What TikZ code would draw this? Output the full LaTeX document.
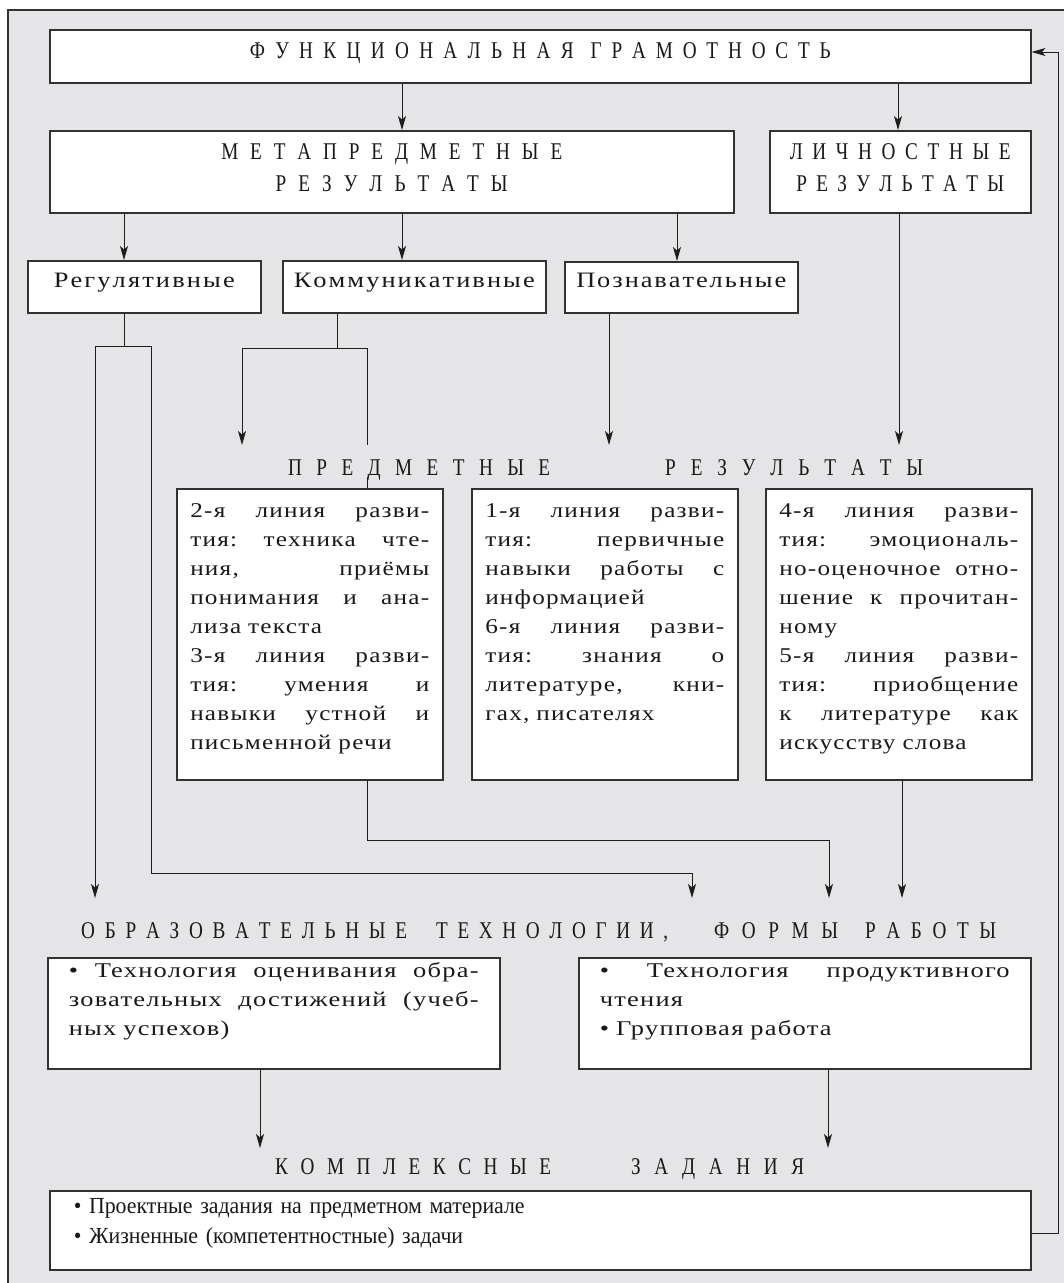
\documentclass[tikz,border=0pt]{standalone}
\usepackage{fontspec}
\setmainfont{Liberation Serif}
\newfontfamily\hfont{Liberation Serif}[FakeStretch=0.8]
\newfontfamily\bodyfont{Liberation Serif}[FakeStretch=1.2, LetterSpace=6]
\newfontfamily\btfont{Liberation Serif}[FakeStretch=1.26, LetterSpace=6]
\newfontfamily\lblfont{Liberation Serif}[FakeStretch=1.2]
\newfontfamily\tfont{Liberation Serif}[FakeStretch=0.95]
\usetikzlibrary{arrows.meta}
\definecolor{bgc}{RGB}{229,229,231}
\definecolor{linec}{RGB}{30,30,30}
\definecolor{boxc}{RGB}{50,50,50}
\definecolor{txtc}{RGB}{25,25,25}
\def\spreadloop#1{#1\futurelet\spnext\spreadcheck}
\def\spreadcheck{\ifx\spnext\relax\expandafter\spreadstop\else\hfil\expandafter\spreadloop\fi}
\def\spreadstop\relax{}
\newcommand\spw[2]{\leavevmode\hbox to #1{\spreadloop#2\relax}}
\newcommand\jl[1]{\leavevmode\hbox to \hsize{\spaceskip=0.3em plus 20em minus 0.08em\xspaceskip=\spaceskip\relax #1}}
\begin{document}
\begin{tikzpicture}[x=1pt,y=-1pt,
  bx/.style={draw=boxc, line width=1.5pt, fill=white, inner sep=0pt, text=txtc},
  hdf/.style={font=\hfont\fontsize{24}{32}\selectfont},
  hd/.style={inner sep=0pt, text=txtc, hdf},
  lbl/.style={font=\lblfont\fontsize{22}{26}\selectfont, align=center},
  mid/.style={bx, anchor=north west, text width=239pt, inner xsep=13.5pt, inner ysep=0pt,
    text height=29pt, text depth=262pt, align=left,
    font=\bodyfont\fontsize{21}{29}\selectfont},
  bt/.style={bx, anchor=north west, text width=410pt, inner xsep=21pt, inner ysep=0pt,
    text height=20pt, text depth=91pt, align=left,
    font=\btfont\fontsize{21}{29}\selectfont},
  ln/.style={draw=linec, line width=1pt},
  arr/.style={ln, -{Stealth[length=14pt,width=8pt,inset=3.5pt]}}]
\useasboundingbox (0,0) rectangle (1064,1283);
\fill[bgc] (8,10) rectangle (1064,1283);
\draw[boxc, line width=1.5pt] (8,1283) -- (8,10) -- (1064,10);

% top level
\node[bx, hdf, anchor=north west, text width=981pt, align=center, text height=29pt, text depth=24pt] (fg) at (49,29)
  {\spw{324pt}{ФУНКЦИОНАЛЬНАЯ}\hspace{17pt}\spw{240pt}{ГРАМОТНОСТЬ}};
\node[bx, hdf, anchor=north west, text width=684pt, align=center, text height=29pt, text depth=53pt] (meta) at (49,130)
  {\spw{341pt}{МЕТАПРЕДМЕТНЫЕ}\\\spw{232pt}{РЕЗУЛЬТАТЫ}};
\node[bx, hdf, anchor=north west, text width=261pt, align=center, text height=29pt, text depth=53pt] (lich) at (769,130)
  {\spw{221pt}{ЛИЧНОСТНЫЕ}\\\spw{208pt}{РЕЗУЛЬТАТЫ}};

% second level
\node[bx, lbl, anchor=north west, text width=233pt, text height=27pt, text depth=25pt] (reg) at (27,260) {\spw{181pt}{Регулятивные}};
\node[bx, lbl, anchor=north west, text width=263pt, text height=27pt, text depth=25pt] (kom) at (282,260) {\spw{241pt}{Коммуникативные}};
\node[bx, lbl, anchor=north west, text width=233pt, text height=26pt, text depth=25pt] (poz) at (564,261) {\spw{210pt}{Познавательные}};

% subject results
\node[hd, anchor=base west] (pr) at (288,475)
  {\spw{262pt}{ПРЕДМЕТНЫЕ}\hspace{115pt}\spw{258pt}{РЕЗУЛЬТАТЫ}};
\node[mid] (l2) at (176,488) {\jl{2-я линия разви-}\\\jl{тия: техника чте-}\\\jl{ния, приёмы}\\\jl{понимания и ана-}\\лиза текста\\\jl{3-я линия разви-}\\\jl{тия: умения и}\\\jl{навыки устной и}\\письменной речи};
\node[mid] (l1) at (471,488) {\jl{1-я линия разви-}\\\jl{тия: первичные}\\\jl{навыки работы с}\\информацией\\\jl{6-я линия разви-}\\\jl{тия: знания о}\\\jl{литературе, кни-}\\гах, писателях};
\node[mid] (l4) at (765,488) {\jl{4-я линия разви-}\\\jl{тия: эмоциональ-}\\\jl{но-оценочное отно-}\\\jl{шение к прочитан-}\\ному\\\jl{5-я линия разви-}\\\jl{тия: приобщение}\\\jl{к литературе как}\\искусству слова};

% technologies
\node[hd, anchor=base west] (ot) at (81,938)
  {\spw{326pt}{ОБРАЗОВАТЕЛЬНЫЕ}\hspace{29pt}\spw{232pt}{ТЕХНОЛОГИИ,}\hspace{46pt}\spw{124pt}{ФОРМЫ}\hspace{27pt}\spw{131pt}{РАБОТЫ}};
\node[bt] (t1) at (47,957) {\jl{• Технология оценивания обра-}\\\jl{зовательных достижений (учеб-}\\ных успехов)};
\node[bt] (t2) at (578,957) {\jl{• Технология продуктивного}\\чтения\\• Групповая работа};

% complex tasks
\node[hd, anchor=base west] (kz) at (275,1174)
  {\spw{276pt}{КОМПЛЕКСНЫЕ}\hspace{80pt}\spw{173pt}{ЗАДАНИЯ}};
\node[bx, anchor=north west, text width=933pt, inner xsep=24pt, inner ysep=0pt, text height=23pt,
  text depth=56pt, align=left, font=\tfont\fontsize{23}{30}\selectfont] (t3) at (49,1190)
  {• Проектные задания на предметном материале\\• Жизненные (компетентностные) задачи};

% coordinates
\coordinate (rj) at (124,346);
\coordinate (rl) at (95,346);
\coordinate (rr) at (151,346);
\coordinate (kj) at (337,348);
\coordinate (kl) at (242,348);
\coordinate (kr) at (367,348);
\coordinate (a1) at (95,898);
\coordinate (a2) at (242,445);
\coordinate (a3) at (609,445);
\coordinate (a4) at (899,445);
\coordinate (b1) at (151,873);
\coordinate (b2) at (692,873);
\coordinate (a5) at (692,898);
\coordinate (c1) at (367,840);
\coordinate (c2) at (829,840);
\coordinate (a6) at (829,898);
\coordinate (a7) at (902,898);
\coordinate (a8) at (260,1148);
\coordinate (a9) at (828,1148);
\coordinate (f1) at (1058,1233);
\coordinate (f2) at (1058,52);

% connectors
\draw[arr] (fg.south -| 402,0) -- (meta.north -| 402,0);
\draw[arr] (fg.south -| 898,0) -- (lich.north -| 898,0);
\draw[arr] (meta.south -| 124,0) -- (reg.north -| 124,0);
\draw[arr] (meta.south -| 402,0) -- (kom.north -| 402,0);
\draw[arr] (meta.south -| 677,0) -- (poz.north -| 677,0);

\draw[ln] (reg.south -| rj) -- (rj);
\draw[ln] (rl) -- (rr);
\draw[arr] (rl) -- (a1);
\draw[arr] (rr) -- (b1) -- (b2) -- (a5);

\draw[ln] (kom.south -| kj) -- (kj);
\draw[ln] (kl) -- (kr);
\draw[arr] (kl) -- (a2);
\draw[ln] (kr) -- (kr |- a2);
\draw[ln] (kr |- 0,477) -- (kr |- l2.north);

\draw[arr] (poz.south -| a3) -- (a3);
\draw[arr] (lich.south -| a4) -- (a4);

\draw[arr] (l2.south -| c1) -- (c1) -- (c2) -- (a6);
\draw[arr] (l4.south -| a7) -- (a7);

\draw[arr] (t1.south -| a8) -- (a8);
\draw[arr] (t2.south -| a9) -- (a9);

\draw[arr] (t3.east |- f1) -- (f1) -- (f2) -- (fg.east |- f2);
\end{tikzpicture}
\end{document}
